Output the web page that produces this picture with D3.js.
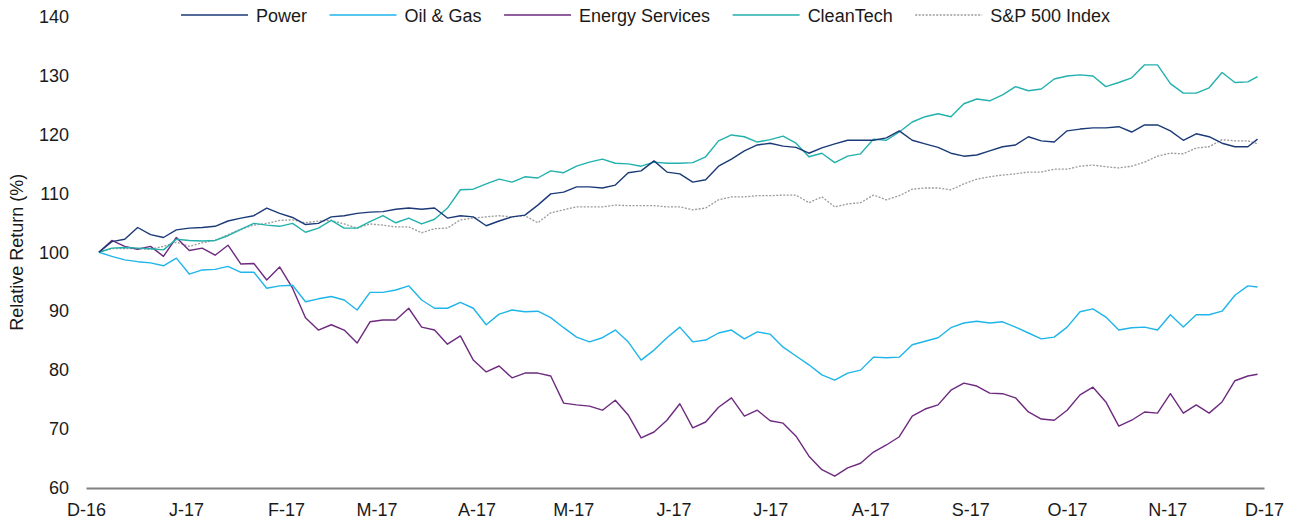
<!DOCTYPE html>
<html>
<head>
<meta charset="utf-8">
<script src="https://cdnjs.cloudflare.com/ajax/libs/d3/7.8.5/d3.min.js"></script>
<style>
	body { margin: 0; background: #fff; }
	svg text { font-family: "Liberation Sans", Arial, sans-serif; fill: #1a1a1a; }
</style>
</head>
<body>
<div class="chart-container"></div>
<script>
// sample dates (every 4 days)
const dates = [
	"2016-12-05","2016-12-09","2016-12-13","2016-12-17","2016-12-21","2016-12-25","2016-12-29",
	"2017-01-02","2017-01-06","2017-01-10","2017-01-14","2017-01-18","2017-01-22","2017-01-26","2017-01-30",
	"2017-02-03","2017-02-07","2017-02-11","2017-02-15","2017-02-19","2017-02-23","2017-02-27",
	"2017-03-03","2017-03-07","2017-03-11","2017-03-15","2017-03-19","2017-03-23","2017-03-27","2017-03-31",
	"2017-04-04","2017-04-08","2017-04-12","2017-04-16","2017-04-20","2017-04-24","2017-04-28",
	"2017-05-02","2017-05-06","2017-05-10","2017-05-14","2017-05-18","2017-05-22","2017-05-26","2017-05-30",
	"2017-06-03","2017-06-07","2017-06-11","2017-06-15","2017-06-19","2017-06-23","2017-06-27",
	"2017-07-01","2017-07-05","2017-07-09","2017-07-13","2017-07-17","2017-07-21","2017-07-25","2017-07-29",
	"2017-08-02","2017-08-06","2017-08-10","2017-08-14","2017-08-18","2017-08-22","2017-08-26","2017-08-30",
	"2017-09-03","2017-09-07","2017-09-11","2017-09-15","2017-09-19","2017-09-23","2017-09-27",
	"2017-10-01","2017-10-05","2017-10-09","2017-10-13","2017-10-17","2017-10-21","2017-10-25","2017-10-29",
	"2017-11-02","2017-11-06","2017-11-10","2017-11-14","2017-11-18","2017-11-22","2017-11-26","2017-11-29"
];

const power = [
	100,101.8,102.2,104.2,103.0,102.5,103.8,104.1,104.2,104.4,105.3,105.8,106.2,107.5,106.6,
	105.9,104.7,104.9,106.0,106.2,106.6,106.8,106.9,107.3,107.5,107.3,107.5,105.8,106.2,106.0,
	104.5,105.3,106.0,106.3,108.0,109.9,110.2,111.1,111.1,110.9,111.4,113.5,113.8,115.5,113.6,
	113.3,111.9,112.3,114.6,115.8,117.2,118.2,118.5,118.0,117.8,116.8,117.7,118.4,119.0,119.0,
	119.0,119.4,120.6,119.0,118.4,117.8,116.8,116.3,116.5,117.2,117.9,118.2,119.6,118.9,118.7,
	120.6,120.9,121.1,121.1,121.3,120.4,121.6,121.6,120.6,119.0,120.1,119.6,118.5,117.9,117.9,119.2
];

const oilGas = [
	100,99.3,98.7,98.4,98.2,97.7,99.0,96.3,97.0,97.1,97.6,96.6,96.6,93.9,94.3,
	94.4,91.6,92.1,92.5,91.9,90.2,93.2,93.2,93.6,94.3,91.9,90.5,90.5,91.5,90.5,
	87.7,89.5,90.2,89.9,90.0,88.9,87.2,85.6,84.8,85.5,86.8,84.8,81.7,83.4,85.5,
	87.3,84.8,85.1,86.3,86.8,85.3,86.5,86.1,83.9,82.4,80.9,79.2,78.3,79.5,80.0,
	82.2,82.1,82.2,84.3,84.9,85.5,87.2,88.0,88.3,88.0,88.2,87.3,86.3,85.3,85.6,
	87.3,89.9,90.4,89.0,86.8,87.2,87.3,86.8,89.4,87.3,89.4,89.4,90.0,92.7,94.3,94.1
];

const energyServices = [
	100,102.0,101.0,100.5,101.0,99.3,102.5,100.3,100.7,99.5,101.2,98.0,98.1,95.3,97.5,
	93.9,88.9,86.8,87.7,86.8,84.6,88.2,88.5,88.5,90.5,87.3,86.8,84.4,85.8,81.7,
	79.7,80.7,78.7,79.5,79.5,79.0,74.4,74.1,73.9,73.2,74.9,72.4,68.5,69.5,71.5,
	74.3,70.2,71.2,73.7,75.3,72.2,73.2,71.4,71.0,68.8,65.4,63.1,62.0,63.4,64.2,
	66.1,67.3,68.7,72.2,73.4,74.1,76.6,77.8,77.3,76.1,76.0,75.3,72.9,71.7,71.5,
	73.2,75.8,77.1,74.6,70.5,71.5,72.9,72.7,76.0,72.7,74.1,72.7,74.6,78.2,79.0,79.3
];

const cleanTech = [
	100,100.7,100.8,100.7,100.6,100.4,102.2,102.0,101.9,102.0,102.8,103.9,104.9,104.6,104.4,
	104.9,103.4,104.1,105.4,104.1,104.1,105.2,106.2,105.0,105.8,104.8,105.6,107.5,110.6,110.7,
	111.6,112.4,111.9,112.8,112.6,113.8,113.5,114.6,115.3,115.8,115.1,115.0,114.6,115.3,115.1,
	115.1,115.2,116.2,118.9,119.9,119.6,118.7,119.1,119.7,118.5,116.2,116.8,115.2,116.3,116.7,
	119.2,119.0,120.4,122.1,123.0,123.5,123.0,125.2,126.0,125.7,126.7,128.1,127.4,127.7,129.4,
	129.9,130.1,129.9,128.1,128.8,129.6,131.8,131.8,128.6,127.0,127.0,127.9,130.5,128.8,128.9,129.8
];

const sp500 = [
	100,100.6,100.6,100.6,100.5,101.0,101.7,101.0,101.6,102.0,103.0,103.9,104.6,104.9,105.4,
	105.5,105.0,105.3,105.4,104.8,104.1,104.8,104.6,104.3,104.3,103.3,104.0,104.1,105.5,105.8,
	106.0,106.2,106.0,106.2,105.0,106.7,107.2,107.7,107.7,107.7,108.0,107.9,107.9,107.9,107.7,
	107.7,107.2,107.5,108.9,109.4,109.4,109.6,109.6,109.7,109.7,108.4,109.4,107.7,108.2,108.4,
	109.7,108.9,109.6,110.7,110.9,110.9,110.6,111.6,112.4,112.8,113.1,113.3,113.6,113.6,114.1,
	114.1,114.6,114.8,114.5,114.3,114.6,115.3,116.3,116.8,116.7,117.7,117.9,119.1,118.9,118.9,118.4
];

const seriesNames = ["Power", "Oil & Gas", "Energy Services", "CleanTech", "S&P 500 Index"];
const seriesValues = [power, oilGas, energyServices, cleanTech, sp500];
const seriesColors = ["#1b3a78", "#1fb5ea", "#6d2a7f", "#22b1ac", "#9a9a9a"];
const seriesDash = [null, null, null, null, "2,1.5"];

const yTicks = [60, 70, 80, 90, 100, 110, 120, 130, 140];
const monthLabels = ["D-16","J-17","F-17","M-17","A-17","M-17","J-17","J-17","A-17","S-17","O-17","N-17","D-17"];

function drawChart(){

	const width = 1297, height = 523;
	// plot area in pixels
	const margin = {top: 16.5, right: 33, bottom: 35, left: 86};

	const parse = d3.timeParse("%Y-%m-%d");
	const xDates = dates.map(parse);

	const svg = d3.select(".chart-container")
		.append("svg")
		.attr("width", width)
		.attr("height", height);

	const x = d3.scaleTime()
		.domain([new Date(2016, 11, 1), new Date(2017, 11, 1)])
		.range([margin.left, width - margin.right]);

	const y = d3.scaleLinear()
		.domain([60, 140])
		.range([height - margin.bottom, margin.top]);

	// y axis (labels only)
	const yAxis = svg.append("g")
		.attr("transform", `translate(${margin.left},0)`)
		.call(d3.axisLeft(y).tickValues(yTicks).tickSize(0).tickPadding(17));
	yAxis.select(".domain").remove();
	yAxis.selectAll("text").style("font-size", "18px");

	// x axis
	const monthTicks = d3.timeMonth.range(new Date(2016, 11, 1), new Date(2017, 11, 2));
	const xAxis = svg.append("g")
		.attr("transform", `translate(0,${height - margin.bottom})`)
		.call(d3.axisBottom(x).tickValues(monthTicks).tickSize(0).tickPadding(15.5)
			.tickFormat((d, i) => monthLabels[i]));
	xAxis.select(".domain")
		.attr("stroke", "#808080")
		.attr("stroke-width", 1.8);
	xAxis.selectAll("text").style("font-size", "18px");

	// y title
	svg.append("text")
		.attr("transform", `translate(23,${y(100)}) rotate(-90)`)
		.attr("text-anchor", "middle")
		.style("font-size", "18px")
		.text("Relative Return (%)");

	// lines
	const line = d3.line()
		.x((d, i) => x(xDates[i]))
		.y(d => y(d));

	const drawOrder = [4, 2, 1, 3, 0];
	drawOrder.forEach(s => {
		svg.append("path")
			.datum(seriesValues[s])
			.attr("fill", "none")
			.attr("stroke", seriesColors[s])
			.attr("stroke-width", s === 4 ? 1.3 : 1.4)
			.attr("stroke-dasharray", seriesDash[s])
			.attr("stroke-linejoin", "round")
			.attr("d", line);
	});

	// legend
	const legend = svg.append("g").attr("class", "legend")
		.attr("transform", "translate(181,0)");
	let lx = 0;
	seriesNames.forEach((name, i) => {
		const item = legend.append("g").attr("transform", `translate(${lx},0)`);
		item.append("line")
			.attr("x1", 0).attr("x2", 67)
			.attr("y1", 15).attr("y2", 15)
			.attr("stroke", seriesColors[i])
			.attr("stroke-width", 1.5)
			.attr("stroke-dasharray", seriesDash[i]);
		const t = item.append("text")
			.attr("x", 75)
			.attr("y", 21.5)
			.style("font-size", "18px")
			.text(name);
		lx += 75 + t.node().getComputedTextLength() + 22.5;
	});
}

drawChart();
</script>
</body>
</html>
